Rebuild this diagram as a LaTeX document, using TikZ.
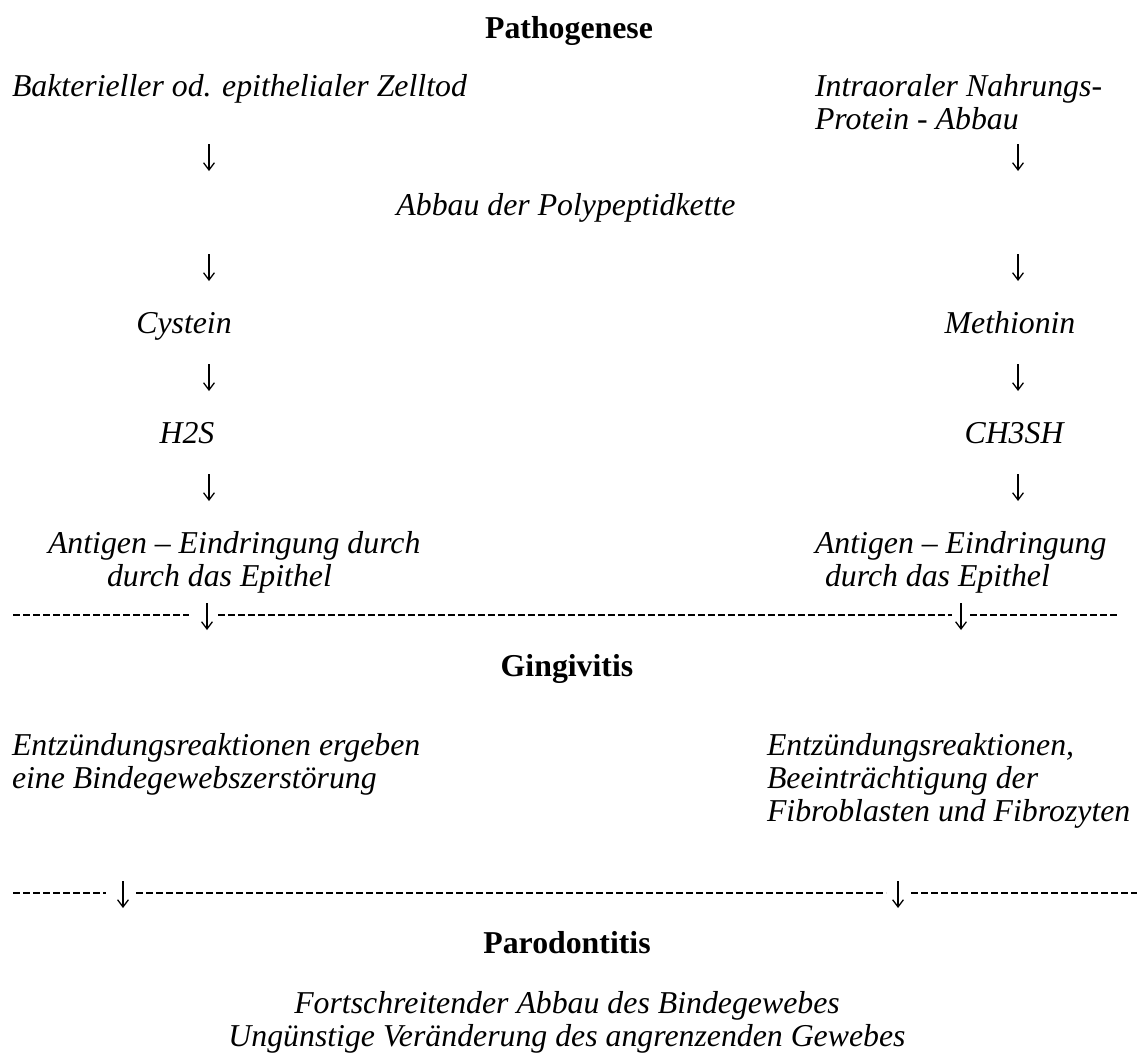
\documentclass[tikz,border=0pt]{standalone}
\usepackage{fontspec}
\usetikzlibrary{arrows.meta}
\setmainfont{Liberation Serif}
\begin{document}
\begin{tikzpicture}[x=0.5pt,y=-0.5pt,
  txt/.style={font=\fontsize{15.9}{18}\selectfont\itshape, inner sep=0, outer sep=0},
  ttl/.style={font=\fontsize{15.9}{18}\selectfont\bfseries, inner sep=0, outer sep=0},
  arrowline/.style={line width=0.65pt, -{Straight Barb[length=3.6pt,width=5.4pt,line width=0.65pt]}},
  sep/.style={line width=0.95pt, dash pattern=on 3.7pt off 1.3pt}]
\useasboundingbox (0,0) rectangle (1144,1055);
% title
\node[ttl, anchor=base] (pat) at (569,38) {Pathogenese};
% first row
\node[txt, anchor=base west] (bak) at (12,96) {Bakterieller od. epithelialer Zelltod};
\node[txt, anchor=base west] (intra1) at (815,96) {Intraoraler Nahrungs-};
\node[txt, anchor=base west] (intra2) at (815,129) {Protein - Abbau};
\node[txt, anchor=base] (poly) at (566,215) {Abbau der Polypeptidkette};
\node[txt, anchor=base] (cys) at (184,333) {Cystein};
\node[txt, anchor=base] (met) at (1010,333) {Methionin};
\node[txt, anchor=base] (h2s) at (187,443) {H2S};
\node[txt, anchor=base] (ch3) at (1014,443) {CH3SH};
\node[txt, anchor=base west] (ant1) at (48,553) {Antigen – Eindringung durch};
\node[txt, anchor=base west] (ant2) at (107,586) {durch das Epithel};
\node[txt, anchor=base west] (ant3) at (815,553) {Antigen – Eindringung};
\node[txt, anchor=base west] (ant4) at (825,586) {durch das Epithel};
% column arrows
\foreach \n/\x/\y in {a1l/209/144, a1r/1018/144, a2l/209/254, a2r/1018/254,
                      a3l/209/364, a3r/1018/364, a4l/209/474, a4r/1018/474}{
  \coordinate (\n t) at (\x,\y);
  \coordinate (\n b) at (\x,\y+27);
  \draw[arrowline] (\n t) -- (\n b);
}
% separator 1
\coordinate (d1a) at (13,615); \coordinate (d1b) at (189,615);
\coordinate (d1c) at (218,615); \coordinate (d1d) at (952,615);
\coordinate (d1e) at (970,615); \coordinate (d1f) at (1117,615);
\draw[sep] (d1a) -- (d1b);
\draw[sep] (d1c) -- (d1d);
\draw[sep] (d1e) -- (d1f);
\coordinate (s1at) at (207,603); \coordinate (s1ab) at (207,630);
\coordinate (s1bt) at (961,603); \coordinate (s1bb) at (961,630);
\draw[arrowline] (s1at) -- (s1ab);
\draw[arrowline] (s1bt) -- (s1bb);
% Gingivitis
\node[ttl, anchor=base] (gin) at (567,676) {Gingivitis};
\node[txt, anchor=base west] (ent1) at (12,755) {Entzündungsreaktionen ergeben};
\node[txt, anchor=base west] (ent2) at (12,788) {eine Bindegewebszerstörung};
\node[txt, anchor=base west] (ent3) at (767,755) {Entzündungsreaktionen,};
\node[txt, anchor=base west] (ent4) at (767,788) {Beeinträchtigung der};
\node[txt, anchor=base west] (ent5) at (767,821) {Fibroblasten und Fibrozyten};
% separator 2
\coordinate (d2a) at (13,893); \coordinate (d2b) at (106,893);
\coordinate (d2c) at (136,893); \coordinate (d2d) at (886,893);
\coordinate (d2e) at (911,893); \coordinate (d2f) at (1137,893);
\draw[sep] (d2a) -- (d2b);
\draw[sep] (d2c) -- (d2d);
\draw[sep] (d2e) -- (d2f);
\coordinate (s2at) at (123,881); \coordinate (s2ab) at (123,908);
\coordinate (s2bt) at (898,881); \coordinate (s2bb) at (898,908);
\draw[arrowline] (s2at) -- (s2ab);
\draw[arrowline] (s2bt) -- (s2bb);
% Parodontitis
\node[ttl, anchor=base] (par) at (567,953) {Parodontitis};
\node[txt, anchor=base] (fort) at (567,1013) {Fortschreitender Abbau des Bindegewebes};
\node[txt, anchor=base] (ung) at (567,1046) {Ungünstige Veränderung des angrenzenden Gewebes};
\end{tikzpicture}
\end{document}
